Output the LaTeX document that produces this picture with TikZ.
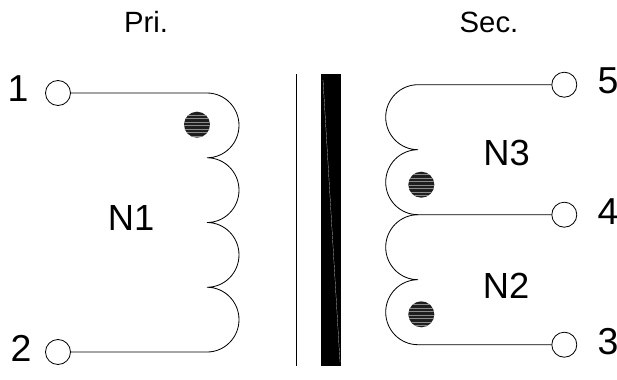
\documentclass[tikz,border=0pt]{standalone}
\usepackage{fontspec}
\setmainfont{Liberation Sans}
\usepackage{tikz}
\usetikzlibrary{calc,patterns}

\tikzset{
  winding/.style={draw=black, line width=0.7pt},
  terminal/.style={circle, draw=black, fill=white, line width=0.7pt, minimum size=25*0.03cm, inner sep=0pt},
  phasedot/.style={circle, fill=black!88, minimum size=26*0.03cm, inner sep=0pt,
    postaction={pattern=horizontal lines, pattern color=black!45}},
  pinlabel/.style={font=\fontsize{32}{32}\selectfont},
  coillabel/.style={font=\fontsize{31}{31}\selectfont},
  sidelabel/.style={font=\fontsize{25}{25}\selectfont}
}

\begin{document}
\begin{tikzpicture}[x=0.03cm,y=-0.03cm]
    \useasboundingbox (0,0) rectangle (617,379);

    % Terminals, primary side
    \node[terminal] (T1) at (58,93) {};
    \node[terminal] (T2) at (58,352) {};
    % Terminals, secondary side
    \node[terminal] (T5) at (564.3,84.7) {};
    \node[terminal] (T4) at (564.3,214.7) {};
    \node[terminal] (T3) at (564.3,344.7) {};

    % Start and end of each winding
    \coordinate (P1) at (207,93);
    \coordinate (P2) at (207,352);
    \coordinate (S5) at (418,84.7);
    \coordinate (S4) at (418,214.7);
    \coordinate (S3) at (418,344.7);

    % Primary winding N1
    \draw[winding] (T1.east) -- (P1)
        \foreach \turn in {1,...,4} { arc (90:-90:32 and -32.375) }
        -- (T2.east);

    % Secondary winding N3
    \draw[winding] (T5.west) -- (S5)
        \foreach \turn in {1,2} { arc (90:270:32.3 and -32.5) }
        -- (T4.west);

    % Secondary winding N2
    \draw[winding] (S4)
        \foreach \turn in {1,2} { arc (90:270:32.3 and -32.5) }
        -- (T3.west);

    % Core
    \draw[line width=0.8pt] (296,74) -- (296,366);
    \fill[black] (321,74) rectangle (340.7,366);
    \draw[white, line width=0.15pt] (323,80) -- (340,362);

    % Phase dots
    \node[phasedot] (D1) at (197,124.7) {};
    \node[phasedot] (D3) at (421.3,184.7) {};
    \node[phasedot] (D2) at (421.3,314.3) {};

    % Pin numbers
    \node[pinlabel] (L1) at (18,89) {1};
    \node[pinlabel] (L2) at (21,348) {2};
    \node[pinlabel] (L5) at (608,81) {5};
    \node[pinlabel] (L4) at (608,212) {4};
    \node[pinlabel] (L3) at (608,342) {3};

    % Winding names
    \node[coillabel] (N1) at (131,218) {N1};
    \node[coillabel] (N3) at (506.5,153) {N3};
    \node[coillabel] (N2) at (506,286) {N2};

    % Sides
    \node[sidelabel] (pri) at (146,22) {Pri.};
    \node[sidelabel] (sec) at (489,22) {Sec.};
\end{tikzpicture}
\end{document}
